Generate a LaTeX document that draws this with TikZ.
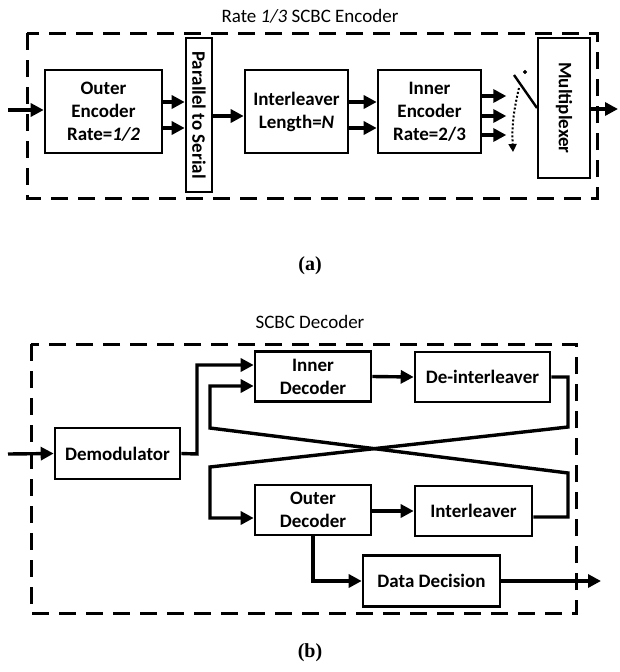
\documentclass[tikz,border=0pt]{standalone}
\usepackage{fontspec}
\setmainfont{Carlito}
\newfontfamily\capfont{Liberation Serif}
\usetikzlibrary{positioning}
\usetikzlibrary{arrows.meta}

\tikzset{
  blk/.style={draw, line width=2.6pt, inner sep=0pt, align=center, font=\bfseries\fontsize{19}{23}\selectfont},
  flow/.style={line width=3.4pt, -{Triangle[length=13pt,width=13pt]}},
  frame/.style={line width=3pt, dash pattern=on 17pt off 10pt},
  ttl/.style={font=\fontsize{19}{23}\selectfont},
  subcap/.style={font=\capfont\bfseries\fontsize{20}{24}\selectfont},
}

\begin{document}
\begin{tikzpicture}[x=1pt, y=-1pt]
    \useasboundingbox (0,0) rectangle (619,672);
    % encoder
    \node[ttl] (enctitle) at (310,16) {Rate \textit{1/3} SCBC Encoder};
    \draw[frame] (27,33) rectangle (597,198);
    \node[blk, minimum width=117, minimum height=83] (outerenc) at (103.5,111.5) {Outer\\Encoder\\Rate=\textit{1/2}};
    \node[blk, rotate=-90, minimum width=154, minimum height=26] (ps) at (199,115) {Parallel to Serial};
    \node[blk, minimum width=103, minimum height=83] (intlv) at (296.5,111.5) {Interleaver\\Length=\textit{N}};
    \node[blk, minimum width=103, minimum height=83] (innerenc) at (429.5,111.5) {Inner\\Encoder\\Rate=2/3};
    \node[blk, rotate=-90, minimum width=140, minimum height=52] (mux) at (564,108) {Multiplexer};
    \coordinate (encin) at (8,110);
    \coordinate (encout) at (618,109);
    \draw[flow] (encin) -- (outerenc.west |- encin);
    \draw[flow] (outerenc.east |- 0,102) -- (ps.south |- 0,102);
    \draw[flow] (outerenc.east |- 0,128) -- (ps.south |- 0,128);
    \draw[flow] (ps.north |- 0,116) -- (intlv.west |- 0,116);
    \draw[flow] (intlv.east |- 0,102) -- (innerenc.west |- 0,102);
    \draw[flow] (intlv.east |- 0,128) -- (innerenc.west |- 0,128);
    \draw[flow] (innerenc.east |- 0,96) -- ++(24,0);
    \draw[flow] (innerenc.east |- 0,116) -- ++(24,0);
    \draw[flow] (innerenc.east |- 0,135) -- ++(24,0);
    % switch
    \draw[line width=2.4pt] (514,75) -- (537,108);
    \filldraw (525,72) circle (1.8pt);
    \draw[line width=2pt, dotted, -{Triangle[length=8pt,width=8pt]}] (519,88) to[bend right=8] (513,152);
    \draw[flow] (mux.north |- encout) -- (encout);
    \node[subcap] (capa) at (310,266) {(a)};
    % decoder
    \node[ttl] (dectitle) at (310,322) {SCBC Decoder};
    \draw[frame] (31,344) rectangle (576,613);
    \node[blk, minimum width=125, minimum height=51] (demod) at (117.5,453.5) {Demodulator};
    \node[blk, minimum width=116, minimum height=50] (innerdec) at (313,376.5) {Inner\\Decoder};
    \node[blk, minimum width=135, minimum height=50] (deint) at (482.5,377) {De-interleaver};
    \node[blk, minimum width=116, minimum height=50] (outerdec) at (313,510) {Outer\\Decoder};
    \node[blk, minimum width=117, minimum height=50] (intlvb) at (473.5,511) {Interleaver};
    \node[blk, minimum width=137, minimum height=51] (decision) at (431.5,581) {Data Decision};
    \coordinate (decin) at (8,454);
    \coordinate (decout) at (601,581);
    \draw[flow] (decin) -- (demod.west);
    \draw[flow] (demod.east) -- (197,454) |- (innerdec.west |- 0,365);
    \draw[flow] (innerdec.east) -- (deint.west);
    \draw[flow] (deint.east) -- (568,377) -- (568,427) -- (210,467) |- (outerdec.west |- 0,518);
    \draw[flow] (outerdec.east |- 0,511) -- (intlvb.west |- 0,511);
    \draw[flow] (intlvb.east |- 0,517) -- (568,517) -- (568,473) -- (210,428) |- (innerdec.west |- 0,386);
    \draw[flow] (outerdec.south) |- (decision.west);
    \draw[flow] (decision.east) -- (decout);
    \node[subcap] (capb) at (310,653) {(b)};
\end{tikzpicture}
\end{document}
